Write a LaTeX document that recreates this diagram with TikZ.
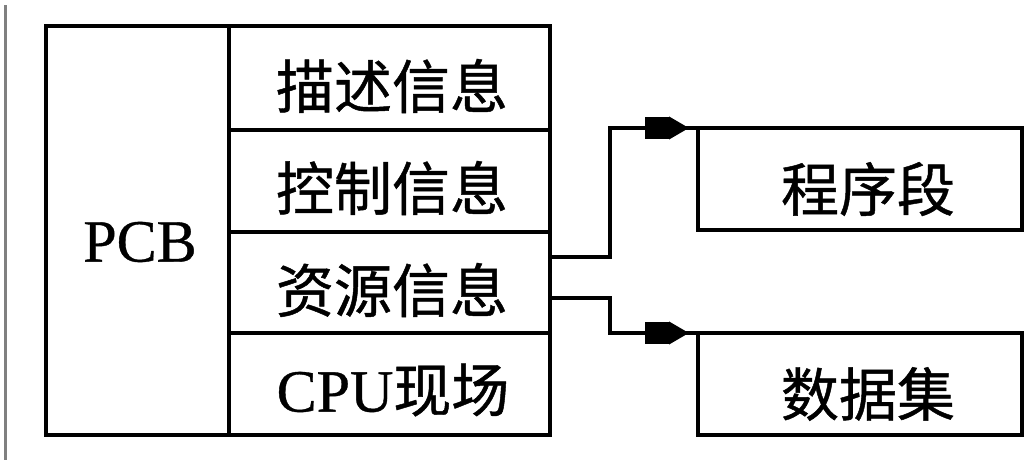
\documentclass[tikz,border=0pt]{standalone}
\usepackage{fontspec}
\setmainfont{Liberation Serif}[FakeBold=0.6]
\newfontfamily\cjk{Noto Sans CJK SC}[FakeBold=0.8]
\usetikzlibrary{arrows.meta,calc,decorations.markings}
\tikzset{
  cell/.style={draw, line width=4pt, inner sep=0pt, outer sep=0pt},
  txt/.style={inner sep=0pt, font=\fontsize{58}{60}\selectfont\cjk},
  lat/.style={inner sep=0pt, font=\fontsize{60}{62}\selectfont},
  conn/.style={line width=4pt, postaction={decorate},
    decoration={markings, mark=at position -9pt with {\arrow{Rectangle[length=24pt,width=22pt] Triangle[length=20pt,width=22pt]}}}}
}
\begin{document}
\begin{tikzpicture}[x=1pt,y=-1pt]
\useasboundingbox (0,0) rectangle (1034,466);
\draw[gray, line width=3pt] (5,5) coordinate (g1) -- (5,460) coordinate (g2);
% PCB column
\node[cell, minimum width=183pt, minimum height=409pt] (pcb) at (137.5,230.5) {};
\node[lat] (pcbt) at (140,242) {PCB};
% rows
\node[cell, minimum width=321pt, minimum height=104pt] (r1) at (389.5,78) {};
\node[cell, minimum width=321pt, minimum height=102pt] (r2) at (389.5,181) {};
\node[cell, minimum width=321pt, minimum height=101pt] (r3) at (389.5,282.5) {};
\node[cell, minimum width=321pt, minimum height=102pt] (r4) at (389.5,384) {};
\node[txt] (t1) at (392,86) {描述信息};
\node[txt] (t2) at (392,188) {控制信息};
\node[txt] (t3) at (392,290) {资源信息};
\node[inner sep=0pt] (t4) at (393,390) {{\fontsize{60}{62}\selectfont CPU}{\fontsize{58}{60}\selectfont\cjk 现场}};
% right boxes
\node[cell, minimum width=324pt, minimum height=102pt] (seg) at (860,179) {};
\node[cell, minimum width=324pt, minimum height=102pt] (dat) at (860,384) {};
\node[txt] (segt) at (868,189) {程序段};
\node[txt] (datt) at (868,394) {数据集};
% connectors
\coordinate (k1) at (610,257);
\coordinate (k2) at (610,298);
\draw[conn] ($(r3.east)+(0,-25.5)$) -- (k1) |- (seg.north west);
\draw[conn] ($(r3.east)+(0,15.5)$) -- (k2) |- (dat.north west);
\end{tikzpicture}
\end{document}
